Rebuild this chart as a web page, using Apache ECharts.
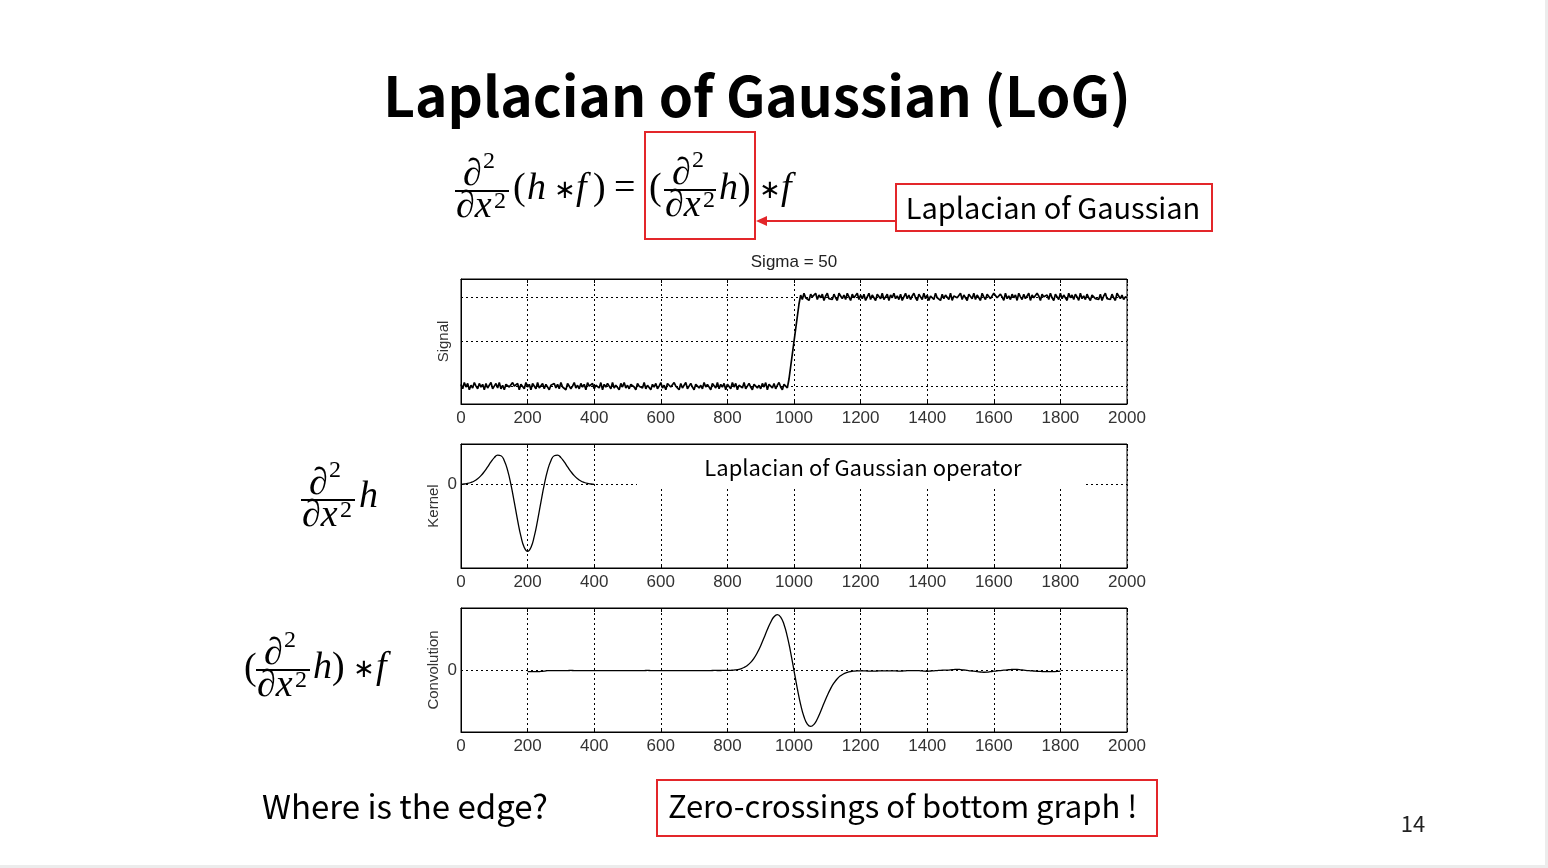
<!DOCTYPE html>
<html>
<head>
<meta charset="utf-8">
<script src="https://cdn.jsdelivr.net/npm/echarts@6/dist/echarts.min.js"></script>
<style>
html,body{margin:0;padding:0;background:#fff;}
#chart{width:1548px;height:868px;}
</style>
</head>
<body>
<div id="chart"></div>
<script>
// ---------- DATA ----------
const xTickMin = 0, xTickMax = 2000, xTickInterval = 200;

// Signal: sampled every 5 units from 0 to 2000 (noisy step at ~1000)
const signalStep = 5;
const signalLow = [
 2,-3,4,-1,3,-4,1,-2,4,0,-3,3,-1,2,-4,3,-2,1,4,-3,
 0,3,-2,4,-3,1,-4,2,3,-1,-3,4,0,-2,3,-4,2,1,-3,4,
 -1,2,-4,3,1,-3,4,-2,0,3,-3,2,4,-4,1,-1,3,-2,2,-3,
 4,-1,1,-4,3,2,-3,0,4,-2,1,-3,3,-1,2,-4,4,0,-2,3,
 -3,1,3,-2,4,-4,2,-1,3,0,-3,4,-2,1,2,-4,3,-1,4,-2,
 1,-3,2,4,-1,-4,3,0,2,-2,4,-3,1,3,-4,2,-1,3,-3,0,
 4,-2,1,-4,3,2,-1,-3,4,0,2,-4,3,-2,1,4,-3,0,3,-1,
 -4,2,3,-2,1,-3,4,-1,2,0,-4,3,1,-2,4,-3,2,-1,3,-4,
 2,0,-3,4,-1,3,-4,1,2,-2,4,-3,0,3,-1,-4,2,4,-2,1,
 -3,3,-1,4,-4,2,0,-2,3,-3,1,4,-1,-4,2,3,-2
];
const signalRamp = [8,22,36,50,64,78,92];
const signalHigh = [
 102,97,104,99,101,96,103,100,98,104,97,102,99,103,96,101,104,98,100,97,
 103,99,96,104,101,98,102,97,104,100,96,103,99,101,104,97,102,98,103,96,
 100,104,97,102,99,96,103,101,98,104,97,100,103,96,102,99,104,98,101,97,
 103,96,100,104,98,102,97,101,104,99,96,103,100,97,104,98,102,96,101,103,
 97,104,99,101,96,103,98,102,100,97,104,96,101,103,99,98,104,97,102,100,
 96,103,101,98,104,97,102,99,96,104,100,97,103,101,98,96,104,102,99,97,
 103,100,96,104,98,101,97,103,99,102,96,104,100,97,103,98,101,104,96,102,
 99,97,104,101,96,103,100,98,102,97,104,99,96,103,101,97,104,98,102,100,
 96,104,99,102,97,103,100,96,104,98,101,97,103,99,96,102,104,98,100,97,
 103,96,101,104,98,100,97,103,99,96,104,101,98,102,97,100,99
];
const signalGridY = [0, 50, 100];

// Kernel (LoG operator), sampled every 10 units from 0 to 400
const kernelStart = 0, kernelStep = 10;
const kernelValues = [
 0.005,0.010,0.018,0.033,0.055,0.089,0.136,0.196,0.267,0.341,
 0.406,0.443,0.434,0.360,0.214,0,-0.261,-0.535,-0.775,-0.941,
 -1,
 -0.941,-0.775,-0.535,-0.261,0,0.214,0.360,0.434,0.443,0.406,
 0.341,0.267,0.196,0.136,0.089,0.055,0.033,0.018,0.010,0.005
];
const kernelGridY = [0];

// Convolution, sampled every 10 units from 200 to 1800
const convStart = 200, convStep = 10;
const convValues = [
 -0.02,-0.02,-0.02,-0.02,-0.015,-0.01,0,0,0,0,
 0,0,0,0.002,0,0,0,0,0,0,
 0,0,-0.002,0,0,0,0,0,0,0,
 0,0,0,0,0,0,0.002,0,0,0,
 0,0,0,0,0,0,0,0,0,0,
 0,0,0,0,0,0,0.002,0.001,0.001,0.002,
 0.002,0.005,0.009,0.017,0.032,0.055,0.092,0.146,0.222,0.323,
 0.446,0.587,0.733,0.866,0.963,1.0,0.958,0.826,0.609,0.323,
 0,-0.323,-0.609,-0.826,-0.958,-1.0,-0.963,-0.866,-0.733,-0.587,
 -0.446,-0.323,-0.222,-0.146,-0.092,-0.055,-0.032,-0.017,-0.009,-0.005,
 -0.004,-0.005,-0.008,-0.01,-0.01,-0.008,-0.006,-0.005,-0.005,-0.004,
 -0.005,-0.008,-0.01,-0.006,-0.002,0,0,0,-0.005,-0.01,
 -0.012,-0.008,-0.004,0,0.004,0.006,0.008,0.012,0.018,0.022,
 0.018,0.01,0.002,-0.006,-0.012,-0.02,-0.026,-0.03,-0.028,-0.02,
 -0.012,-0.006,0,0.006,0.012,0.018,0.022,0.02,0.014,0.006,
 0,-0.004,-0.008,-0.012,-0.016,-0.018,-0.02,-0.02,-0.018,-0.015,
 -0.01
];
const convGridY = [0];

// Texts
const titleText = 'Laplacian of Gaussian (LoG)';
const plotTitle = 'Sigma = 50';
const yNames = ['Signal', 'Kernel', 'Convolution'];
const calloutText = 'Laplacian of Gaussian';
const operatorText = 'Laplacian of Gaussian operator';
const questionText = 'Where is the edge?';
const answerText = 'Zero-crossings of bottom graph !';
const pageNumber = '14';

// ---------- BUILD ----------
const signalValues = signalLow.concat(signalRamp, signalHigh);
const signalData = signalValues.map((v, i) => [i * signalStep, v]);
const kernelData = kernelValues.map((v, i) => [kernelStart + i * kernelStep, v]);
const convData = convValues.map((v, i) => [convStart + i * convStep, v]);

const SANS = '"Noto Sans CJK KR", "Noto Sans", sans-serif';
const AX = '"Liberation Sans", Arial, sans-serif';
const MATH = '"Liberation Serif", "DejaVu Serif", serif';
const RED = '#e3262a';
const dotStyle = { color: '#000', type: [2, 3], width: 1 };

const gridBoxes = [
  { left: 461, top: 279, width: 666, height: 125 },
  { left: 461, top: 444, width: 666, height: 124 },
  { left: 461, top: 608, width: 666, height: 124 }
];
const grids = gridBoxes.map(g => Object.assign({ show: true, borderColor: '#000', borderWidth: 1, backgroundColor: '#fff' }, g));

function xAx(i) {
  return {
    type: 'value', gridIndex: i, min: xTickMin, max: xTickMax, interval: xTickInterval,
    axisLine: { show: true, onZero: false, lineStyle: { color: '#000' } },
    axisTick: { show: true, inside: true, length: 4, lineStyle: { color: '#000' } },
    axisLabel: { fontSize: 17, color: '#333', fontFamily: AX, margin: 6, formatter: v => String(v) },
    splitLine: { show: true, lineStyle: dotStyle }
  };
}
function xAxTop(i) {
  return {
    type: 'value', gridIndex: i, position: 'top', min: xTickMin, max: xTickMax, interval: xTickInterval,
    axisLine: { show: true, onZero: false, lineStyle: { color: '#000' } },
    axisTick: { show: true, inside: true, length: 4, lineStyle: { color: '#000' } },
    axisLabel: { show: false }, splitLine: { show: false }
  };
}
function yAx(i, min, max, interval, name, gap, showZero) {
  return {
    type: 'value', gridIndex: i, min: min, max: max, interval: interval,
    name: name, nameLocation: 'middle', nameGap: gap,
    nameTextStyle: { fontSize: 15, color: '#333', fontFamily: AX },
    axisLine: { show: true, onZero: false, lineStyle: { color: '#000' } },
    axisTick: { show: false },
    axisLabel: { show: showZero, fontSize: 17, color: '#333', fontFamily: AX, margin: 4,
      formatter: v => (Math.abs(v) < 1e-9 ? '0' : '') },
    splitLine: { show: false }
  };
}
function gridMarks(vals) {
  return { silent: true, symbol: 'none', label: { show: false },
    lineStyle: dotStyle, emphasis: { disabled: true }, data: vals.map(v => ({ yAxis: v })) };
}

const FS = 38, SUP = 24;
function t(x, y, txt, font, va) {
  return { type: 'text', z: 100, style: { text: txt, x: x, y: y, align: 'left', verticalAlign: va || 'middle',
    font: font, fill: '#000' } };
}
const IT = 'italic ' + FS + 'px ' + MATH;
const UP = FS + 'px ' + MATH;
const SUPF = SUP + 'px ' + MATH;
const STAR = '26px "DejaVu Sans", sans-serif';
// fraction d^2 / dx^2 with bar from L to L+w at barY
function frac(L, barY, w) {
  return [
    t(L + 8, barY + 3, '∂', IT, 'bottom'),
    t(L + 28, barY - 41, '2', SUPF, 'top'),
    { type: 'line', z: 100, shape: { x1: L, y1: barY, x2: L + w, y2: barY },
      style: { stroke: '#000', lineWidth: 2 } },
    t(L + 1, barY - 3, '∂x', IT, 'top'),
    t(L + 39, barY - 1, '2', SUPF, 'top')
  ];
}

const graphics = [].concat(
  [
    { type: 'text', z: 100, style: { text: titleText, x: 757, y: 96, align: 'center', verticalAlign: 'middle',
      font: 'bold 55px ' + SANS, fill: '#000' } }
  ],
  // top formula
  frac(455, 191, 54),
  [
    t(513, 189, '(', UP), t(527, 189, 'h', IT), t(554, 191, '∗', STAR), t(576, 189, 'f', IT),
    t(593, 189, ')', UP), t(614, 189, '=', UP), t(649, 189, '(', UP)
  ],
  frac(664, 190, 52),
  [
    t(719, 189, 'h', IT), t(738, 189, ')', UP), t(759, 191, '∗', STAR), t(781, 189, 'f', IT),
    { type: 'rect', z: 100, shape: { x: 645, y: 132, width: 110, height: 107 },
      style: { fill: 'none', stroke: RED, lineWidth: 2 } },
    { type: 'line', z: 100, shape: { x1: 896, y1: 221, x2: 764, y2: 221 }, style: { stroke: RED, lineWidth: 2 } },
    { type: 'polygon', z: 100, shape: { points: [[756, 221], [767, 216], [767, 226]] }, style: { fill: RED } },
    { type: 'rect', z: 100, shape: { x: 896, y: 184, width: 316, height: 47 },
      style: { fill: '#fff', stroke: RED, lineWidth: 2 } },
    { type: 'text', z: 101, style: { text: calloutText, x: 1053, y: 208, align: 'center', verticalAlign: 'middle',
      font: '29px ' + SANS, fill: '#000' } },
    { type: 'text', z: 100, style: { text: plotTitle, x: 794, y: 262, align: 'center', verticalAlign: 'middle',
      font: '17px ' + AX, fill: '#222' } },
    // white patch behind operator label
    { type: 'rect', z: 100, shape: { x: 637, y: 445, width: 449, height: 42 }, style: { fill: '#fff' } },
    { type: 'text', z: 101, style: { text: operatorText, x: 863, y: 468, align: 'center', verticalAlign: 'middle',
      font: '22px ' + SANS, fill: '#000' } }
  ],
  // left formulas
  frac(301, 500, 54),
  [ t(359, 497, 'h', IT) ],
  [ t(244, 669, '(', UP) ],
  frac(256, 670, 54),
  [ t(313, 668, 'h', IT), t(332, 668, ')', UP), t(353, 670, '∗', STAR), t(376, 668, 'f', IT) ],
  [
    { type: 'text', z: 100, style: { text: questionText, x: 262, y: 806, align: 'left', verticalAlign: 'middle',
      font: '33px ' + SANS, fill: '#000' } },
    { type: 'rect', z: 100, shape: { x: 657, y: 780, width: 500, height: 56 },
      style: { fill: 'none', stroke: RED, lineWidth: 2 } },
    { type: 'text', z: 100, style: { text: answerText, x: 668, y: 806, align: 'left', verticalAlign: 'middle',
      font: '31px ' + SANS, fill: '#000' } },
    { type: 'text', z: 100, style: { text: pageNumber, x: 1413, y: 824, align: 'center', verticalAlign: 'middle',
      font: '22px ' + SANS, fill: '#222' } },
    { type: 'rect', z: 100, shape: { x: 1545, y: 0, width: 3, height: 868 }, style: { fill: '#ececec' } },
    { type: 'rect', z: 100, shape: { x: 0, y: 865, width: 1548, height: 3 }, style: { fill: '#ececec' } }
  ]
);

const option = {
  backgroundColor: '#fff',
  animation: false,
  grid: grids,
  xAxis: [xAx(0), xAx(1), xAx(2), xAxTop(0), xAxTop(1), xAxTop(2)],
  yAxis: [
    yAx(0, -20, 120, 20, yNames[0], 10, false),
    yAx(1, -1.25, 0.61, 1.25, yNames[1], 20, true),
    yAx(2, -1.1, 1.12, 1.1, yNames[2], 20, true)
  ],
  series: [
    { type: 'line', xAxisIndex: 0, yAxisIndex: 0, data: signalData, showSymbol: false, symbol: 'none',
      lineStyle: { color: '#000', width: 1.7 }, markLine: gridMarks(signalGridY), z: 3 },
    { type: 'line', xAxisIndex: 1, yAxisIndex: 1, data: kernelData, showSymbol: false, symbol: 'none', smooth: true,
      lineStyle: { color: '#000', width: 1.3 }, markLine: gridMarks(kernelGridY), z: 3 },
    { type: 'line', xAxisIndex: 2, yAxisIndex: 2, data: convData, showSymbol: false, symbol: 'none', smooth: true,
      lineStyle: { color: '#000', width: 1.3 }, markLine: gridMarks(convGridY), z: 3 }
  ],
  graphic: { elements: graphics }
};

const chart = echarts.init(document.getElementById('chart'), null, { renderer: 'canvas' });
chart.setOption(option);
</script>
</body>
</html>
